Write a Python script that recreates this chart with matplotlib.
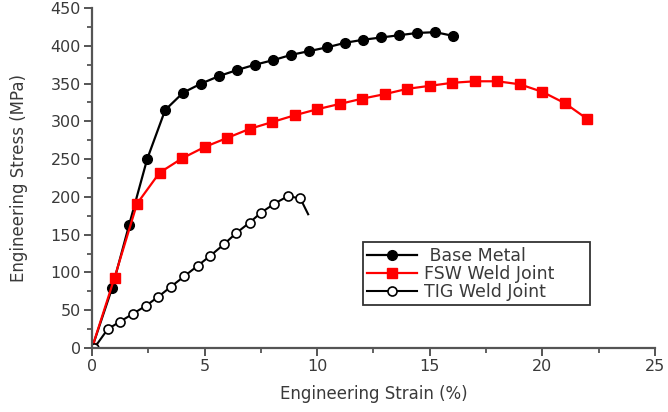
import matplotlib
matplotlib.use("Agg")
import matplotlib.pyplot as plt
from matplotlib.ticker import MultipleLocator

plt.rcParams["font.family"] = ["DejaVu Sans"]

# Base Metal
base_x = [0, 0.9, 1.65, 2.45, 3.25, 4.05, 4.85, 5.65, 6.45, 7.25, 8.05,
          8.85, 9.65, 10.45, 11.25, 12.05, 12.85, 13.65, 14.45, 15.25, 16.05]
base_y = [0, 80, 163, 250, 315, 338, 350, 360, 368, 375, 381,
          388, 393, 398, 404, 408, 411, 414, 417, 418, 413]

# FSW Weld Joint
fsw_x = [0, 1, 2, 3, 4, 5, 6, 7, 8, 9, 10, 11, 12, 13, 14, 15, 16, 17,
         18, 19, 20, 21, 22]
fsw_y = [0, 93, 191, 232, 251, 266, 278, 290, 299, 308, 316, 323, 330,
         336, 343, 347, 351, 353, 353, 349, 339, 324, 303]

# TIG Weld Joint (last point is the end of the curve, no marker)
tig_x = [0.1, 0.7, 1.25, 1.8, 2.4, 2.95, 3.5, 4.1, 4.7, 5.25, 5.85, 6.4,
         7.0, 7.5, 8.1, 8.7, 9.25, 9.6]
tig_y = [0, 25, 35, 45, 56, 68, 81, 95, 109, 122, 137, 152, 166, 179,
         191, 201, 198, 177]

text_col = "#3a3a3a"
axis_col = "#555555"

fig = plt.figure(figsize=(6.68, 4.12), dpi=100)
ax = fig.add_axes([0.1377, 0.1553, 0.8428, 0.8253])

ax.plot(base_x, base_y, color="black", lw=1.6, marker="o", ms=7,
        label=" Base Metal")
ax.plot(fsw_x, fsw_y, color="red", lw=1.6, marker="s", ms=6.5,
        label="FSW Weld Joint")
ax.plot(tig_x, tig_y, color="black", lw=1.5, marker="o", ms=6.5,
        mfc="white", mec="black", mew=1.2,
        markevery=list(range(len(tig_x) - 1)),
        label="TIG Weld Joint")

ax.set_xlim(0, 25)
ax.set_ylim(0, 450)
ax.xaxis.set_major_locator(MultipleLocator(5))
ax.xaxis.set_minor_locator(MultipleLocator(2.5))
ax.yaxis.set_major_locator(MultipleLocator(50))
ax.yaxis.set_minor_locator(MultipleLocator(25))

for side in ["top", "right"]:
    ax.spines[side].set_visible(False)
for side in ["left", "bottom"]:
    ax.spines[side].set_color(axis_col)
    ax.spines[side].set_linewidth(1.6)
ax.tick_params(which="major", direction="out", length=6, width=1.4,
               color=axis_col, labelsize=11.5, labelcolor=text_col, pad=2)
ax.tick_params(which="minor", direction="out", length=3.5, width=1.3,
               color=axis_col)

ax.set_xlabel("Engineering Strain (%)", fontsize=12, color=text_col,
              labelpad=8)
ax.set_ylabel("Engineering Stress (MPa)", fontsize=12, color=text_col,
              labelpad=16)

leg = ax.legend(loc="lower left", bbox_to_anchor=(0.481, 0.126, 0.404, 0.183),
                mode="expand", borderaxespad=0, fontsize=12.5,
                handlelength=2.9, handletextpad=0.4, labelspacing=0.0,
                borderpad=0.25, fancybox=False, edgecolor="#333333",
                framealpha=1)
leg.get_frame().set_linewidth(1.3)
for t in leg.get_texts():
    t.set_color(text_col)

fig.savefig("out.png", dpi=100)
